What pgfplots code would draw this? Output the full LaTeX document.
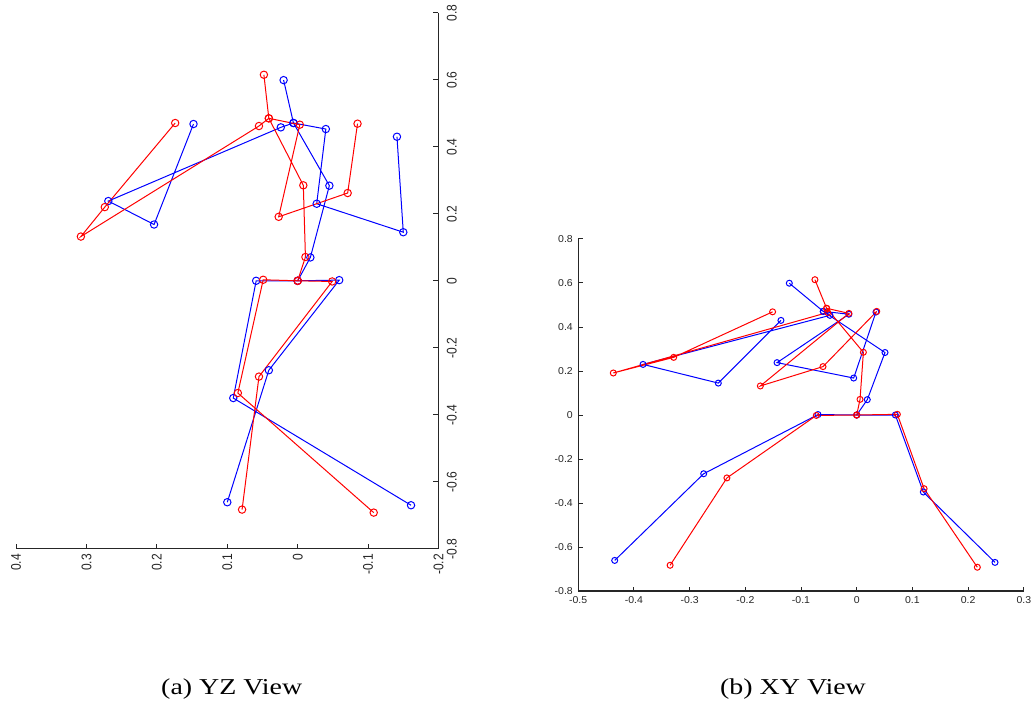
\documentclass[border=0pt]{standalone}
\usepackage{pgfplots}
\pgfplotsset{compat=1.18}
\usepackage{pgfplotstable}
\usepackage{fontspec}
\setmainfont{Liberation Serif}
\newfontfamily\capfont{Liberation Serif}[FakeStretch=1.23]
\newfontfamily\tickA{Liberation Sans}[FakeStretch=0.86]
\newfontfamily\tickB{Liberation Sans}[FakeStretch=1.05]
\definecolor{axgray}{rgb}{0.15,0.15,0.15}

% joints: X Y Z ; chains separated by nan rows
\pgfplotstableread{
X Y Z
-0.4345 -0.661 0.100
-0.2747 -0.267 0.041
-0.0695 0.002 -0.059
0 0 0
0.0694 0.000 0.059
0.1196 -0.350 0.0915
0.2483 -0.670 -0.161
nan nan nan
0 0 0
0.019 0.0697 -0.018
0.0508 0.284 -0.045
-0.060 0.471 0.006
-0.121 0.599 0.020
nan nan nan
0.0346 0.468 0.148
-0.0054 0.168 0.204
-0.143 0.238 0.269
-0.014 0.458 0.024
-0.060 0.471 0.006
-0.048 0.453 -0.040
-0.3836 0.230 -0.027
-0.2485 0.145 -0.150
-0.136 0.430 -0.141
}\bluetab

\pgfplotstableread{
X Y Z
-0.335 -0.683 0.079
-0.233 -0.286 0.055
-0.0725 -0.002 -0.049
0 0 0
0.073 0.003 0.049
0.121 -0.335 0.085
0.2166 -0.692 -0.108
nan nan nan
0 0 0
0.006 0.071 -0.011
0.012 0.285 -0.008
-0.054 0.485 0.041
-0.075 0.615 0.048
nan nan nan
0.036 0.471 0.174
-0.0605 0.220 0.274
-0.173 0.132 0.308
-0.014 0.462 0.055
-0.054 0.485 0.041
-0.052 0.466 -0.003
-0.437 0.191 0.027
-0.3286 0.262 -0.071
-0.151 0.469 -0.085
}\redtab

\begin{document}
\begin{tikzpicture}
\useasboundingbox (0,0) rectangle (516pt,-352.5pt);

% (a) YZ view
\begin{axis}[
  at={(8.05pt,-6.4pt)}, anchor=north west,
  scale only axis, width=211.2pt, height=268pt,
  xmin=-0.2, xmax=0.4, ymin=-0.8, ymax=0.8, x dir=reverse,
  axis x line*=bottom, axis y line*=right,
  axis line style={axgray, line width=0.5pt},
  xtick={-0.2,-0.1,0,0.1,0.2,0.3,0.4},
  xticklabels={-0.2,-0.1,0,0.1,0.2,0.3,0.4},
  ytick={-0.8,-0.6,-0.4,-0.2,0,0.2,0.4,0.6,0.8},
  yticklabels={-0.8,-0.6,-0.4,-0.2,0,0.2,0.4,0.6,0.8},
  tick style={axgray, line width=0.5pt}, major tick length=2.5pt, tick align=inside,
  xticklabel style={rotate=90, anchor=east, font=\tickA\fontsize{7}{8}\selectfont, text=axgray, inner sep=1pt, xshift=-1.5pt},
  yticklabel style={rotate=90, anchor=north, font=\tickA\fontsize{7}{8}\selectfont, text=axgray, inner sep=1pt, yshift=-3pt},
  clip=false, unbounded coords=jump,
]
\addplot[blue, line width=0.5pt, mark=o, mark size=1.85pt, mark options={solid, line width=0.5pt}] table[x=Z, y=Y] {\bluetab};
\addplot[red, line width=0.5pt, mark=o, mark size=1.85pt, mark options={solid, line width=0.5pt}] table[x=Z, y=Y] {\redtab};
\end{axis}

% (b) XY view
\begin{axis}[
  at={(289.1pt,-119.5pt)}, anchor=north west,
  scale only axis, width=222.8pt, height=176pt,
  xmin=-0.5, xmax=0.3, ymin=-0.8, ymax=0.8,
  axis x line*=bottom, axis y line*=left,
  axis line style={axgray, line width=0.7pt},
  xtick={-0.5,-0.4,-0.3,-0.2,-0.1,0,0.1,0.2,0.3},
  xticklabels={-0.5,-0.4,-0.3,-0.2,-0.1,0,0.1,0.2,0.3},
  ytick={-0.8,-0.6,-0.4,-0.2,0,0.2,0.4,0.6,0.8},
  yticklabels={-0.8,-0.6,-0.4,-0.2,0,0.2,0.4,0.6,0.8},
  tick style={axgray, line width=0.5pt}, major tick length=2.2pt, tick align=inside,
  xticklabel style={anchor=north, font=\tickB\fontsize{5}{6}\selectfont, text=axgray, inner sep=1pt, yshift=-1.5pt},
  yticklabel style={anchor=east, font=\tickB\fontsize{5}{6}\selectfont, text=axgray, inner sep=1pt, xshift=-1.5pt},
  clip=false, unbounded coords=jump,
]
\addplot[blue, line width=0.5pt, mark=o, mark size=1.5pt, mark options={solid, line width=0.5pt}] table[x=X, y=Y] {\bluetab};
\addplot[red, line width=0.5pt, mark=o, mark size=1.5pt, mark options={solid, line width=0.5pt}] table[x=X, y=Y] {\redtab};
\end{axis}

\node[anchor=base, inner sep=0pt, font=\capfont\fontsize{11.35}{13}\selectfont] at (115.85pt,-347.15pt) {(a) YZ View};
\node[anchor=base, inner sep=0pt, font=\capfont\fontsize{11.35}{13}\selectfont] at (396.5pt,-347.15pt) {(b) XY View};
\end{tikzpicture}
\end{document}
